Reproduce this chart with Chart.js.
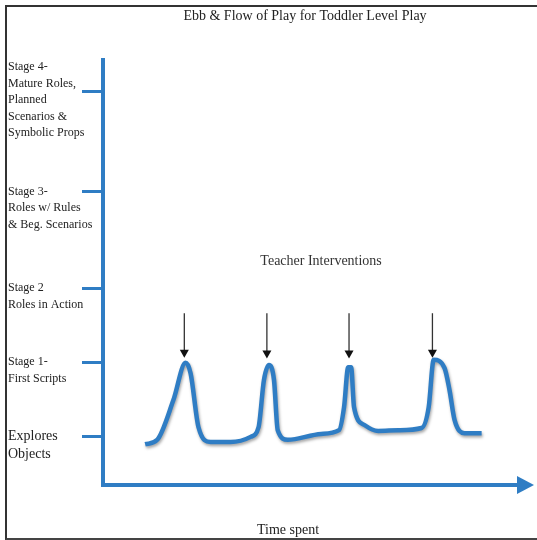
<!DOCTYPE html>
<html>
<head>
<meta charset="utf-8">
<script src="https://cdn.jsdelivr.net/npm/chart.js@4.4.1/dist/chart.umd.min.js"></script>
<style>
  html, body { margin: 0; padding: 0; background: #fff; }
  #wrap { position: relative; width: 537px; height: 540px; overflow: hidden; }
  #chart { position: absolute; left: 0; top: 0; }
  #frame {
    position: absolute; left: 5px; top: 5px; width: 532px; height: 531px;
    border-top: 2px solid #333; border-left: 2px solid #333; border-bottom: 2px solid #444;
    pointer-events: none;
  }
</style>
</head>
<body>
<div id="wrap">
  <canvas id="chart" width="537" height="540"></canvas>
  <div id="frame"></div>
</div>
<script>
var chartTitle = 'Ebb & Flow of Play for Toddler Level Play';
var xTitle = 'Time spent';
var noteText = 'Teacher Interventions';

// stage levels on the y axis (Explores = 0, Stage 1 = 1 ...)
var stageValues = [0, 1, 2, 3.3, 4.65];
var stageLabels = [
    ["", "Explores", "Objects"],
    ["", "Stage 1-", "First Scripts"],
    ["", "Stage 2", "Roles in Action"],
    ["", "", "Stage 3-", "Roles w/ Rules", "& Beg. Scenarios"],
    ["", "Stage 4-", "Mature Roles,", "Planned", "Scenarios &", "Symbolic Props"]
];

// the play curve
var timeSpent = [10.1, 13.0, 16.9, 19.8, 21.0, 22.9, 25.8, 30.6, 35.4, 37.3, 38.6, 39.8, 41.0, 41.9, 44.3,
    52.3, 56.6, 57.8, 58.8, 59.5, 60.2, 62.7, 66.0, 70.8, 76.4, 78.1, 79.3, 81.9, 83.1, 84.3, 86.7, 90.8];
var playLevel = [-0.11, -0.05, 0.49, 0.99, 0.85, 0.12, -0.08, -0.08, -0.01, 0.12, 0.76, 0.96, 0.76, 0.08, -0.05,
    0.03, 0.08, 0.39, 0.93, 0.93, 0.39, 0.15, 0.07, 0.08, 0.11, 0.39, 1.03, 0.92, 0.62, 0.22, 0.04, 0.04];

// teacher intervention arrows
var interventionTimes = [19.5, 39.3, 59.0, 79.0];
var arrowTop = [1.66, 1.66, 1.66, 1.66];
var arrowTip = [1.06, 1.05, 1.05, 1.06];

var blue = '#2f7dc4';
var serif = "'Liberation Serif', 'DejaVu Serif', serif";

var points = timeSpent.map(function (t, i) {
    return {x: t, y: playLevel[i]};
});

var shadowPlugin = {
    id: 'shadow',
    beforeDatasetDraw: function (chart) {
        var ctx = chart.ctx;
        ctx.save();
        ctx.shadowColor = 'rgba(0,0,0,0.35)';
        ctx.shadowBlur = 3;
        ctx.shadowOffsetX = 1;
        ctx.shadowOffsetY = 2;
    },
    afterDatasetDraw: function (chart) {
        chart.ctx.restore();
    }
};

var extrasPlugin = {
    id: 'extras',
    afterDraw: function (chart) {
        var ctx = chart.ctx;
        var xs = chart.scales.x, ys = chart.scales.y;
        var area = chart.chartArea;
        ctx.save();

        // arrow head at the end of the time axis
        var ay = ys.bottom;
        ctx.fillStyle = blue;
        ctx.beginPath();
        ctx.moveTo(area.right - 3, ay - 9);
        ctx.lineTo(area.right + 14, ay);
        ctx.lineTo(area.right - 3, ay + 9);
        ctx.closePath();
        ctx.fill();

        // intervention arrows
        ctx.strokeStyle = '#333';
        ctx.fillStyle = '#111';
        ctx.lineWidth = 1.3;
        for (var i = 0; i < interventionTimes.length; i++) {
            var x = xs.getPixelForValue(interventionTimes[i]);
            var y1 = ys.getPixelForValue(arrowTop[i]);
            var y2 = ys.getPixelForValue(arrowTip[i]);
            ctx.beginPath();
            ctx.moveTo(x, y1);
            ctx.lineTo(x, y2 - 7);
            ctx.stroke();
            ctx.beginPath();
            ctx.moveTo(x - 4.5, y2 - 8);
            ctx.lineTo(x + 4.5, y2 - 8);
            ctx.lineTo(x, y2);
            ctx.closePath();
            ctx.fill();
        }

        // texts
        ctx.fillStyle = '#333';
        ctx.textAlign = 'center';
        ctx.textBaseline = 'middle';
        ctx.font = '14px ' + serif;
        ctx.fillText(noteText, xs.getPixelForValue(52.3), ys.getPixelForValue(2.36));
        ctx.fillStyle = '#222';
        ctx.font = '14px ' + serif;
        ctx.fillText(chartTitle, 305, 16);
        ctx.fillText(xTitle, 288, 530);
        ctx.restore();
    }
};

var ctx = document.getElementById('chart').getContext('2d');
var chart = new Chart(ctx, {
    type: 'line',
    data: {
        datasets: [{
            data: points,
            borderColor: blue,
            borderWidth: 4.5,
            pointRadius: 0,
            tension: 0.4,
            cubicInterpolationMode: 'monotone',
            fill: false
        }]
    },
    options: {
        responsive: false,
        devicePixelRatio: 1,
        animation: false,
        layout: {padding: {left: 8, right: 17, top: 60, bottom: 0}},
        plugins: {
            legend: {display: false},
            tooltip: {enabled: false},
            title: {display: false}
        },
        scales: {
            x: {
                type: 'linear',
                min: 0,
                max: 100,
                ticks: {display: false},
                grid: {display: false},
                border: {display: true, color: blue, width: 4},
                afterFit: function (scale) {
                    scale.height = 55;
                }
            },
            y: {
                type: 'linear',
                min: -0.66,
                max: 5.08,
                afterBuildTicks: function (scale) {
                    scale.ticks = stageValues.map(function (v) {
                        return {value: v};
                    });
                },
                afterFit: function (scale) {
                    scale.width = 95;
                },
                ticks: {
                    autoSkip: false,
                    crossAlign: 'far',
                    color: '#222',
                    font: function (c) {
                        if (c.index === 0) {
                            return {family: serif, size: 14, lineHeight: '18px'};
                        }
                        return {family: serif, size: 12, lineHeight: '16.5px'};
                    },
                    callback: function (value, index) {
                        return stageLabels[index];
                    }
                },
                grid: {
                    drawOnChartArea: false,
                    drawTicks: true,
                    tickLength: 21,
                    color: blue,
                    lineWidth: 3
                },
                border: {display: true, color: blue, width: 4}
            }
        }
    },
    plugins: [shadowPlugin, extrasPlugin]
});
</script>
</body>
</html>
